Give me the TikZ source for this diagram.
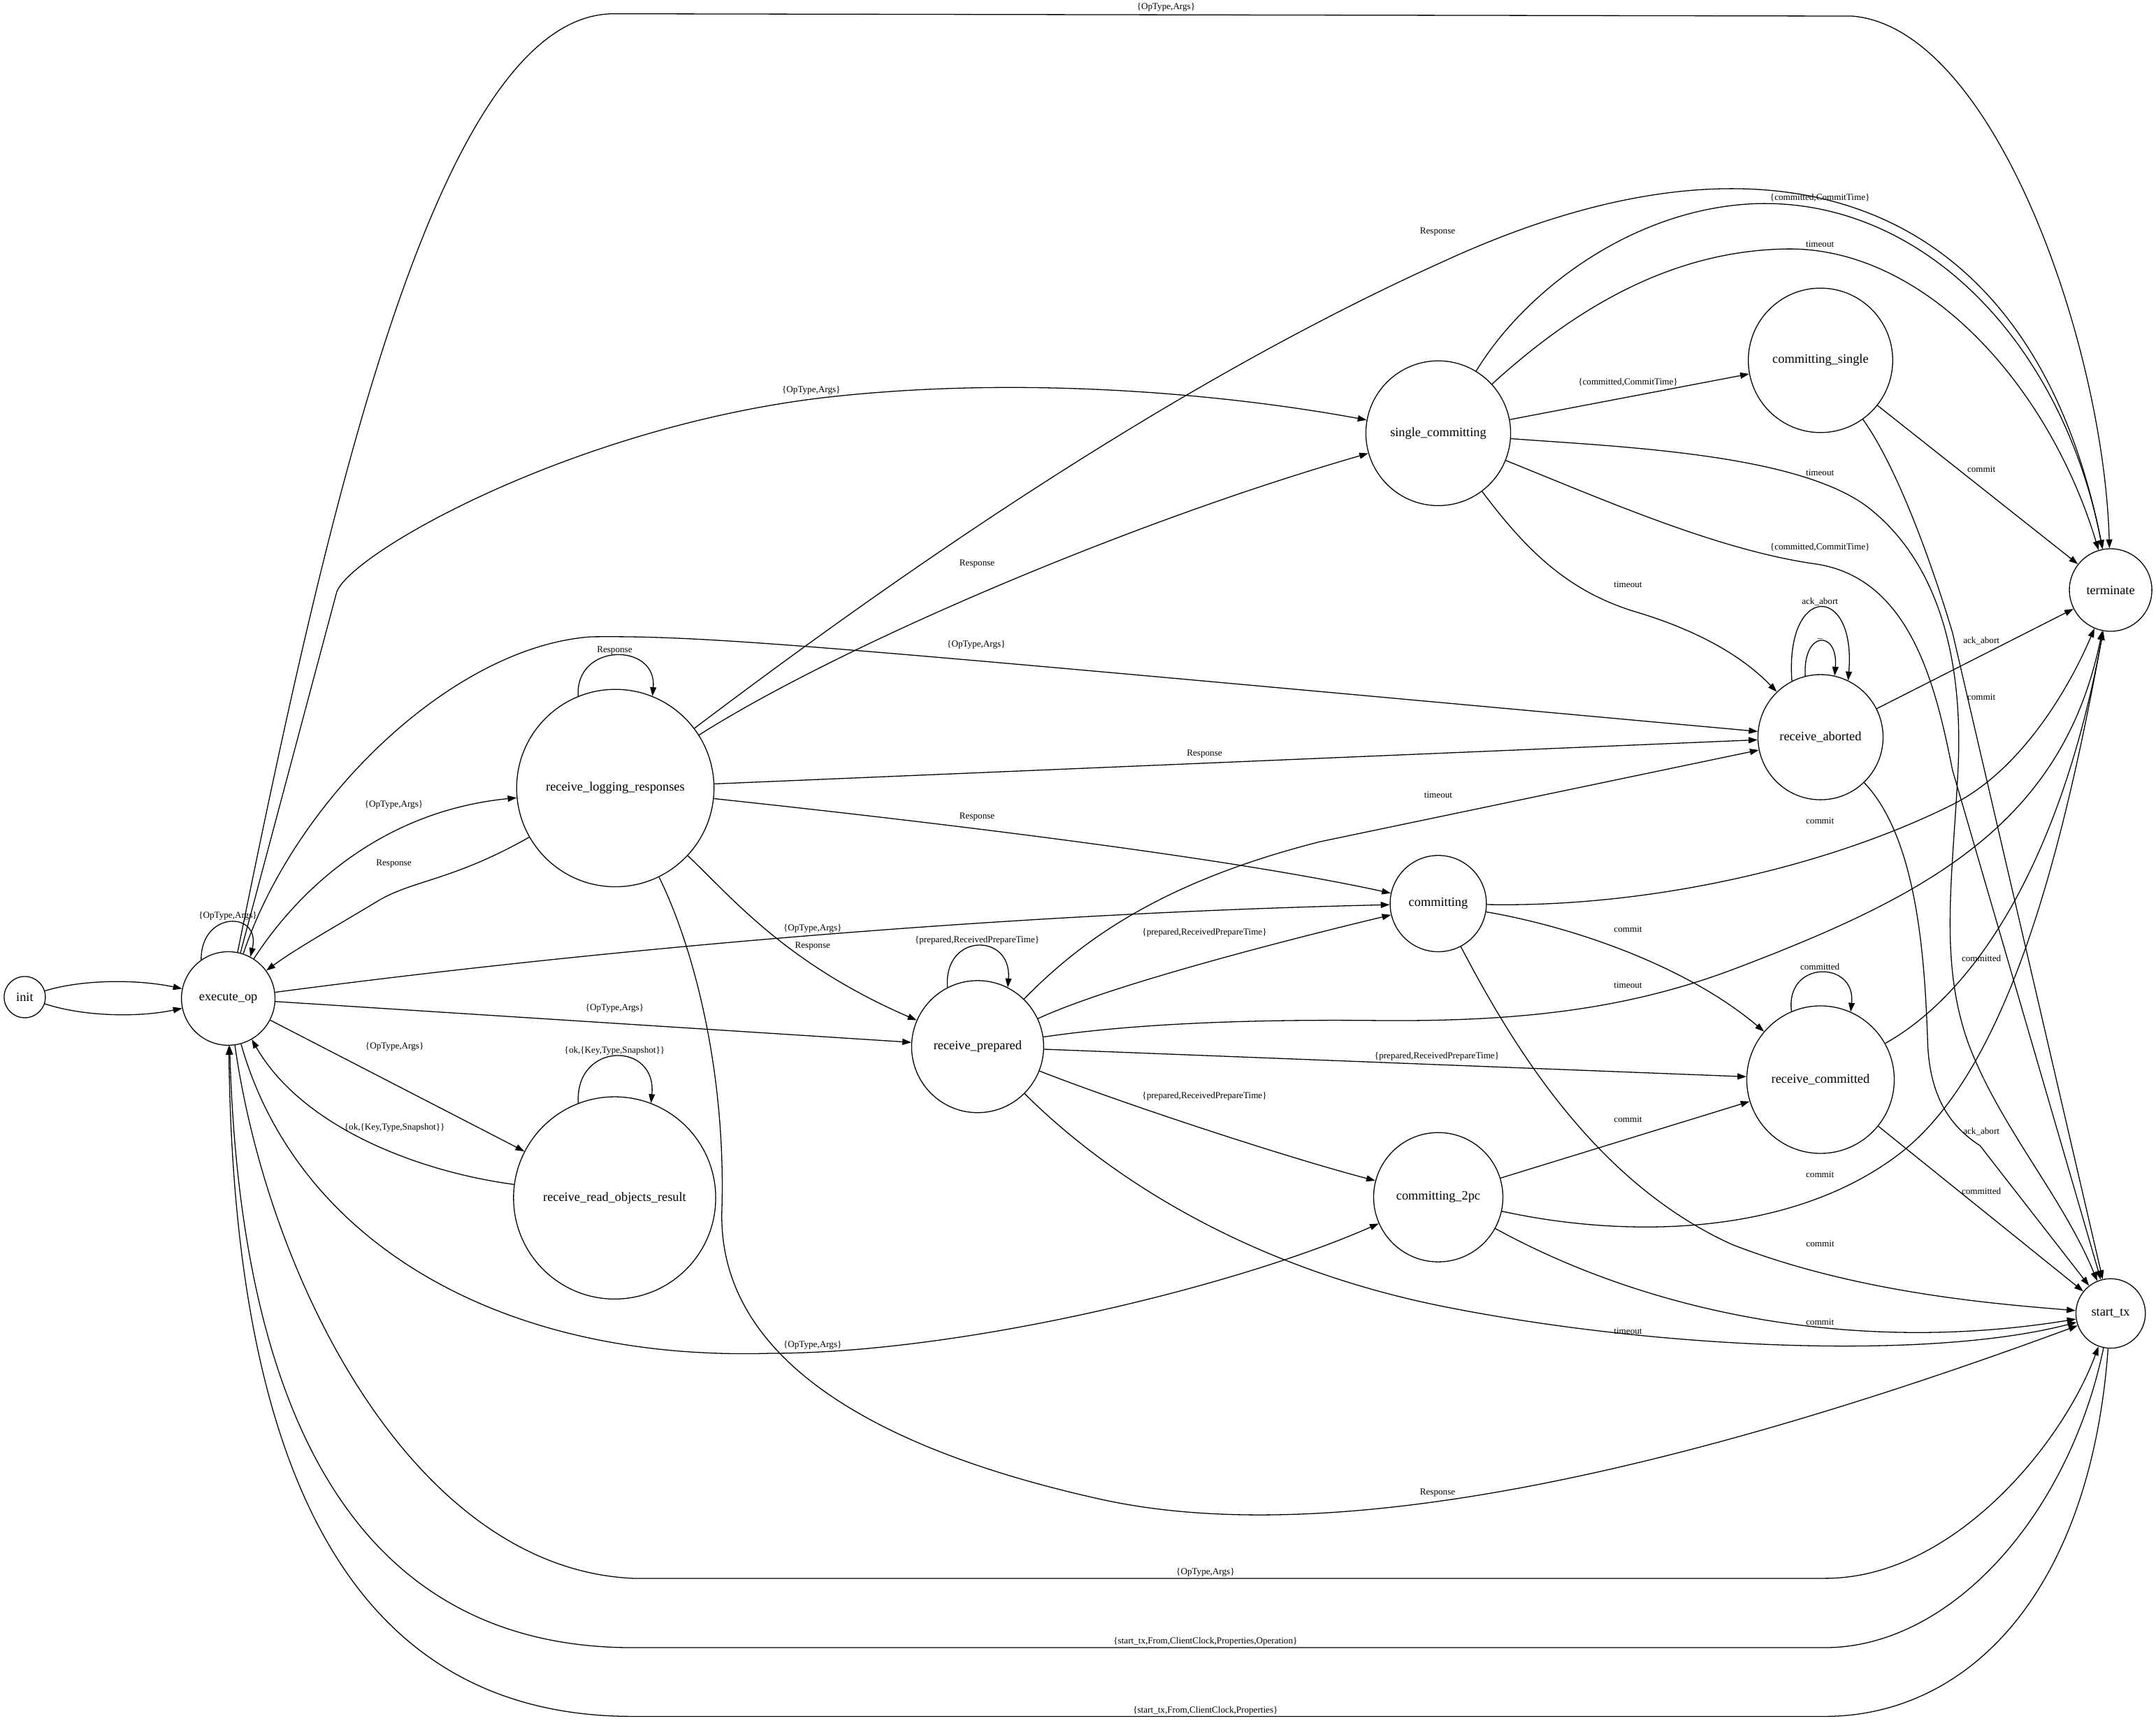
\documentclass[tikz,border=0pt]{standalone}
\usepackage{fontspec}
\setmainfont{Liberation Serif}
\usetikzlibrary{arrows.meta, automata}
\newcommand*{\stfont}{\fontsize{10.6}{12.7}\selectfont}
\newcommand*{\lbfont}{\fontsize{7.6}{9.1}\selectfont}

\begin{document}
\begin{tikzpicture}[x=0.04cm, y=-0.04cm, line width=0.75pt,
      >={Triangle[length=2.6mm,width=1.8mm]},
      every state/.style={draw, inner sep=0pt, font=\stfont},
      lbl/.style={font=\lbfont, inner sep=0pt}]
  \useasboundingbox (0,0) rectangle (1568,1251.3);
  % states
  \node[state, minimum size=1.2cm]  (init)        at (18,725)     {init};
  \node[state, minimum size=2.72cm] (exec_op)     at (166,726)    {execute\_op};
  \node[state, minimum size=5.74cm] (log_resp)    at (447.5,573)  {receive\_logging\_responses};
  \node[state, minimum size=5.88cm] (read_obj)    at (447,871)    {receive\_read\_objects\_result};
  \node[state, minimum size=3.84cm] (recv_prep)   at (711,761)    {receive\_prepared};
  \node[state, minimum size=4.21cm] (single_com)  at (1046,315)   {single\_committing};
  \node[state, minimum size=2.8cm]  (committing)  at (1046,657)   {committing};
  \node[state, minimum size=3.76cm] (com_2pc)     at (1046,870.5) {committing\_2pc};
  \node[state, minimum size=4.2cm]  (com_single)  at (1324,262)   {committing\_single};
  \node[state, minimum size=3.64cm] (recv_abort)  at (1324,536)   {receive\_aborted};
  \node[state, minimum size=4.29cm] (recv_com)    at (1324,785)   {receive\_committed};
  \node[state, minimum size=2.4cm]  (term)        at (1535,429)   {terminate};
  \node[state, minimum size=2.02cm] (start_tx)    at (1535,955)   {start\_tx};

  % init
  \draw[->] (init) .. controls (60,712) and (100,712) .. (exec_op);
  \draw[->] (init) .. controls (60,739) and (100,740) .. (exec_op);

  % execute_op
  \draw[->] (exec_op.125) .. controls (146,662) and (190,662) .. (exec_op.62)
    node[lbl, at={(165.7,666)}] {\{OpType,Args\}};
  \draw[->] (exec_op) .. controls (240,360) and (320,10) .. (446.5,10) -- (1347,11.7)
    .. controls (1450,20) and (1530,250) .. (term)
    node[lbl, at={(848,5.5)}] {\{OpType,Args\}};
  \draw[->] (exec_op) -- (245,430) .. controls (258,400) and (420,310) .. (600,289)
    .. controls (750,272) and (900,288) .. (single_com)
    node[lbl, at={(590,284)}] {\{OpType,Args\}};
  \draw[->] (exec_op) .. controls (215,580) and (330,470) .. (430,463)
    .. controls (520,462) and (600,470) .. (recv_abort)
    node[lbl, at={(710,469)}] {\{OpType,Args\}};
  \draw[->] (exec_op) .. controls (215,650) and (275,590) .. (log_resp)
    node[lbl, at={(286.4,585)}] {\{OpType,Args\}};
  \draw[->] (exec_op) .. controls (400,695) and (700,665) .. (committing)
    node[lbl, at={(591,675)}] {\{OpType,Args\}};
  \draw[->] (exec_op) -- (recv_prep) node[lbl, at={(447,733)}] {\{OpType,Args\}};
  \draw[->] (exec_op) -- (read_obj) node[lbl, at={(287,761)}] {\{OpType,Args\}};
  \draw[->] (exec_op) .. controls (215,900) and (360,990) .. (560,984)
    .. controls (700,984) and (900,935) .. (com_2pc)
    node[lbl, at={(591,978)}] {\{OpType,Args\}};
  \draw[->] (exec_op) .. controls (195,930) and (300,1140) .. (460,1147.6) -- (1327,1147.6)
    .. controls (1420,1148) and (1500,1050) .. (start_tx)
    node[lbl, at={(876.7,1143.5)}] {\{OpType,Args\}};

  % receive_logging_responses
  \draw[->] (log_resp) .. controls (330,640) and (300,640) .. (275,655)
    .. controls (240,676) and (215,690) .. (exec_op)
    node[lbl, at={(286.4,628)}] {Response};
  \draw[->] (log_resp.112) .. controls (418,467) and (478,467) .. (log_resp.68)
    node[lbl, at={(447,473)}] {Response};
  \draw[->] (log_resp) .. controls (650,420) and (850,280) .. (1050,190)
    .. controls (1300,75) and (1480,150) .. (term)
    node[lbl, at={(1045.5,168.6)}] {Response};
  \draw[->] (log_resp) .. controls (610,470) and (820,380) .. (single_com)
    node[lbl, at={(710.6,410)}] {Response};
  \draw[->] (log_resp) -- (recv_abort) node[lbl, at={(876,548)}] {Response};
  \draw[->] (log_resp) .. controls (700,600) and (900,625) .. (committing)
    node[lbl, at={(710.6,594)}] {Response};
  \draw[->] (log_resp) .. controls (530,650) and (570,700) .. (recv_prep)
    node[lbl, at={(591,688)}] {Response};
  \draw[->] (log_resp) .. controls (505,690) and (528,780) .. (525,880)
    .. controls (522,980) and (620,1050) .. (800,1090)
    .. controls (980,1130) and (1250,1060) .. (start_tx)
    node[lbl, at={(1045.5,1085.6)}] {Response};

  % receive_read_objects_result
  \draw[->] (read_obj) .. controls (305,852) and (220,820) .. (exec_op)
    node[lbl, at={(287,820)}] {\{ok,\{Key,Type,Snapshot\}\}};
  \draw[->] (read_obj.111) .. controls (418,757) and (478,757) .. (read_obj.69)
    node[lbl, at={(447,764)}] {\{ok,\{Key,Type,Snapshot\}\}};

  % receive_prepared
  \draw[->] (recv_prep.117) .. controls (686,678) and (736,678) .. (recv_prep.63)
    node[lbl, at={(710.6,684)}] {\{prepared,ReceivedPrepareTime\}};
  \draw[->] (recv_prep) .. controls (810,715) and (950,680) .. (committing)
    node[lbl, at={(876,678)}] {\{prepared,ReceivedPrepareTime\}};
  \draw[->] (recv_prep) .. controls (790,680) and (850,640) .. (960,612) -- (recv_abort)
    node[lbl, at={(1046,578)}] {timeout};
  \draw[->] (recv_prep) .. controls (820,745) and (900,741) .. (1000,742)
    .. controls (1100,743) and (1180,735) .. (1260,705)
    .. controls (1400,652) and (1500,600) .. (term)
    node[lbl, at={(1184,716)}] {timeout};
  \draw[->] (recv_prep) -- (recv_com)
    node[lbl, at={(1045,768)}] {\{prepared,ReceivedPrepareTime\}};
  \draw[->] (recv_prep) .. controls (810,800) and (930,840) .. (com_2pc)
    node[lbl, at={(876,797)}] {\{prepared,ReceivedPrepareTime\}};
  \draw[->] (recv_prep) .. controls (800,850) and (900,920) .. (1050,950)
    .. controls (1200,980) and (1400,990) .. (start_tx)
    node[lbl, at={(1184,968)}] {timeout};

  % single_committing
  \draw[->] (single_com) .. controls (1110,210) and (1190,150) .. (1280,148)
    .. controls (1400,146) and (1500,250) .. (term)
    node[lbl, at={(1323.6,144)}] {\{committed,CommitTime\}};
  \draw[->] (single_com) .. controls (1150,220) and (1220,182) .. (1300,181)
    .. controls (1400,180) and (1490,280) .. (term)
    node[lbl, at={(1323.6,177.4)}] {timeout};
  \draw[->] (single_com) -- (com_single)
    node[lbl, at={(1184,278)}] {\{committed,CommitTime\}};
  \draw[->] (single_com) .. controls (1180,325) and (1310,330) .. (1360,370)
    .. controls (1410,410) and (1428,480) .. (1424,560)
    .. controls (1420,640) and (1410,700) .. (1432,760)
    .. controls (1455,820) and (1500,870) .. (start_tx)
    node[lbl, at={(1323.6,343.6)}] {timeout};
  \draw[->] (single_com) .. controls (1170,365) and (1250,400) .. (1320,410)
    .. controls (1390,420) and (1408,500) .. (1420,560) -- (start_tx)
    node[lbl, at={(1323.6,398)}] {\{committed,CommitTime\}};
  \draw[->] (single_com) .. controls (1110,400) and (1140,430) .. (1190,445)
    .. controls (1240,460) and (1270,480) .. (recv_abort)
    node[lbl, at={(1184,425)}] {timeout};

  % committing_single
  \draw[->] (com_single) -- (term) node[lbl, at={(1441,341)}] {commit};
  \draw[->] (com_single) .. controls (1380,340) and (1405,410) .. (1420,460) -- (start_tx)
    node[lbl, at={(1441,507)}] {commit};

  % receive_aborted
  \draw[->] (recv_abort.117) .. controls (1298,424) and (1350,424) .. (recv_abort.64)
    node[lbl, at={(1323.6,437.6)}] {ack\_abort};
  \draw[->] (recv_abort.104) .. controls (1311,458) and (1337,458) .. (recv_abort.77)
    node[lbl, at={(1323.6,464)}] {\_};
  \draw[->] (recv_abort) -- (term) node[lbl, at={(1441,466)}] {ack\_abort};
  \draw[->] (recv_abort) .. controls (1395,610) and (1400,700) .. (1402,760)
    .. controls (1404,800) and (1420,820) .. (1440,833) -- (start_tx)
    node[lbl, at={(1441,823)}] {ack\_abort};

  % committing
  \draw[->] (committing) .. controls (1200,660) and (1330,630) .. (1420,585)
    .. controls (1470,560) and (1505,500) .. (term)
    node[lbl, at={(1323.6,597)}] {commit};
  \draw[->] (committing) .. controls (1150,675) and (1230,705) .. (recv_com)
    node[lbl, at={(1184,675.5)}] {commit};
  \draw[->] (committing) .. controls (1100,760) and (1160,860) .. (1260,905)
    .. controls (1350,940) and (1450,948) .. (start_tx)
    node[lbl, at={(1323.8,904.4)}] {commit};

  % receive_committed
  \draw[->] (recv_com.113) .. controls (1298,698) and (1350,698) .. (recv_com.66)
    node[lbl, at={(1323.6,703)}] {committed};
  \draw[->] (recv_com) .. controls (1440,720) and (1500,620) .. (term)
    node[lbl, at={(1441,697)}] {committed};
  \draw[->] (recv_com) -- (start_tx) node[lbl, at={(1441,866)}] {committed};

  % committing_2pc
  \draw[->] (com_2pc) -- (recv_com) node[lbl, at={(1184,814)}] {commit};
  \draw[->] (com_2pc) .. controls (1180,900) and (1300,900) .. (1380,840)
    .. controls (1460,780) and (1500,620) .. (term)
    node[lbl, at={(1323.6,854)}] {commit};
  \draw[->] (com_2pc) .. controls (1200,955) and (1350,985) .. (start_tx)
    node[lbl, at={(1323.6,961)}] {commit};

  % start_tx
  \draw[->] (start_tx) .. controls (1505,1100) and (1420,1198) .. (1327,1198) -- (460,1198)
    .. controls (260,1198) and (175,1030) .. (exec_op)
    node[lbl, at={(876.7,1193.5)}] {\{start\_tx,From,ClientClock,Properties,Operation\}};
  \draw[->] (start_tx) .. controls (1520,1160) and (1430,1248) .. (1327,1248) -- (460,1248)
    .. controls (250,1248) and (170,1060) .. (exec_op)
    node[lbl, at={(876.7,1244)}] {\{start\_tx,From,ClientClock,Properties\}};
\end{tikzpicture}
\end{document}
